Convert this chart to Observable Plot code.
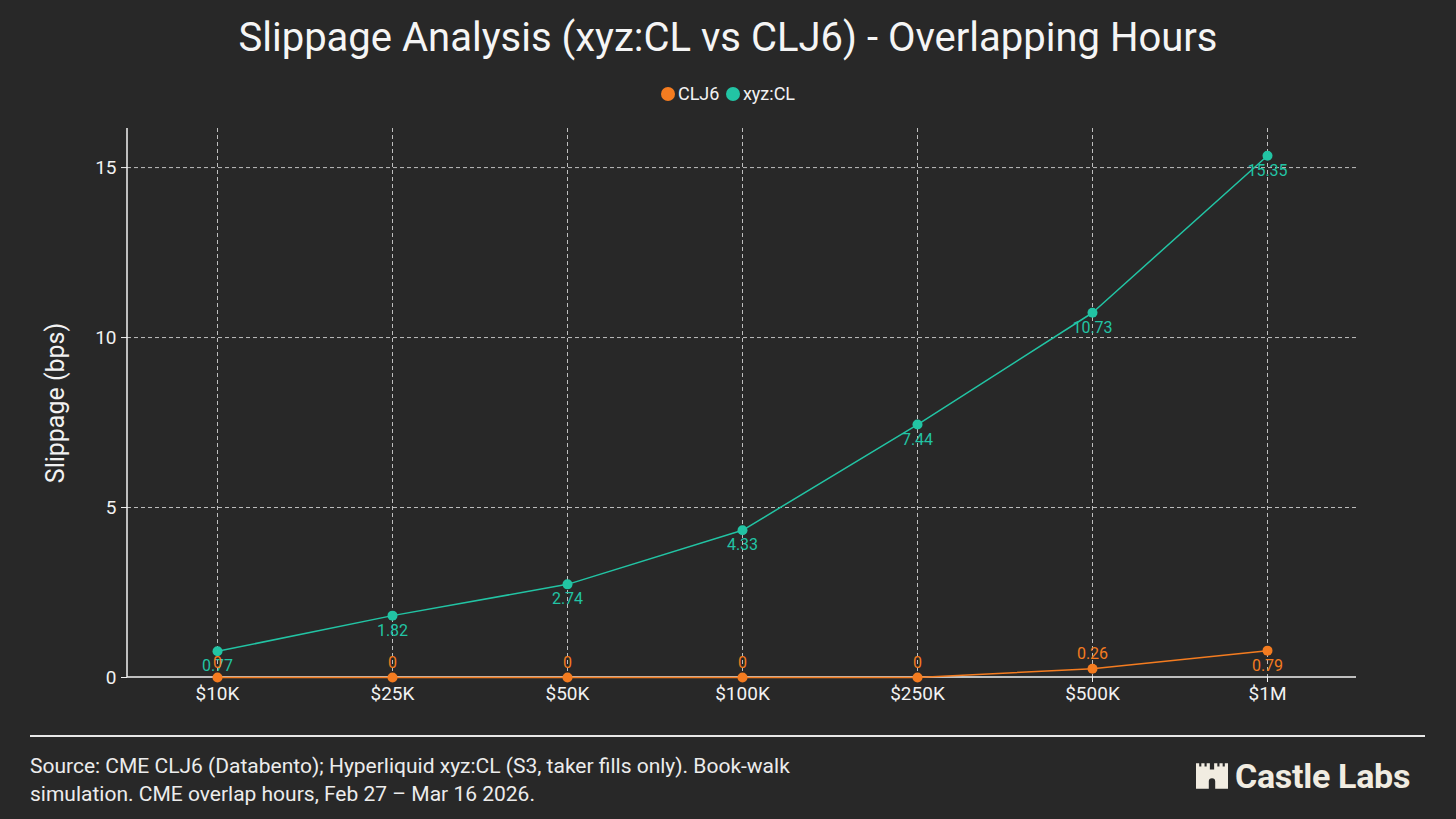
<!DOCTYPE html>
<html>
<head>
<meta charset="utf-8">
<script src="https://cdn.jsdelivr.net/npm/d3@7"></script>
<script src="https://cdn.jsdelivr.net/npm/@observablehq/plot@0.6"></script>
<style>
  html, body { margin: 0; padding: 0; background: #282828; }
  body { width: 1456px; height: 819px; position: relative; overflow: hidden; font-family: Roboto, "Noto Sans", sans-serif; color: #f2f2f2; }
  #title { position: absolute; top: 13px; left: 0; width: 1456px; text-align: center; font-size: 40px; line-height: 50px; font-weight: 400; color: #f5f5f5; }
  #legend { position: absolute; top: 83px; left: 0; width: 1456px; text-align: center; font-size: 18px; line-height: 22px; color: #f2f2f2; }
  #legend .item { display: inline-flex; align-items: center; margin: 0 1px; }
  #legend .dot { width: 14px; height: 14px; border-radius: 50%; display: inline-block; margin-right: 3px; }
  #chart { position: absolute; top: 110px; left: 0; }
  #rule { position: absolute; top: 735px; left: 30px; width: 1395px; height: 1.5px; background: #e8e8e8; }
  #caption { position: absolute; top: 752px; left: 30px; font-size: 21px; line-height: 28px; color: #ececec; }
  #logo { position: absolute; top: 756px; left: 1196px; display: flex; align-items: center; color: #f1ece1; font-weight: 700; font-size: 34px; letter-spacing: -0.3px; }
  #logo svg { margin-right: 7px; }
</style>
</head>
<body>
<div id="title"></div>
<div id="legend"></div>
<div id="chart"></div>
<div id="rule"></div>
<div id="caption"></div>
<div id="logo"></div>
<script>
const sizes = ["$10K", "$25K", "$50K", "$100K", "$250K", "$500K", "$1M"];
const clj6 = [0, 0, 0, 0, 0, 0.26, 0.79];
const xyzcl = [0.77, 1.82, 2.74, 4.33, 7.44, 10.73, 15.35];
const seriesNames = ["CLJ6", "xyz:CL"];
const yTicks = [0, 5, 10, 15];

const titleText = "Slippage Analysis (xyz:CL vs CLJ6) - Overlapping Hours";
const yLabel = "Slippage (bps)";
const captionLines = [
  "Source: CME CLJ6 (Databento); Hyperliquid xyz:CL (S3, taker fills only). Book-walk",
  "simulation. CME overlap hours, Feb 27 \u2013 Mar 16 2026."
];
const brand = "Castle Labs";

const ORANGE = "#f47c20";
const TEAL = "#22c4a4";
const AXIS = "#f2f2f2";
const colors = {"CLJ6": ORANGE, "xyz:CL": TEAL};

document.getElementById("title").textContent = titleText;
document.getElementById("legend").innerHTML = seriesNames.map(n =>
  `<span class="item"><span class="dot" style="background:${colors[n]}"></span>${n}</span>`).join(" ");
document.getElementById("caption").innerHTML = captionLines.join("<br>");
document.getElementById("logo").innerHTML =
  `<svg width="32" height="26" viewBox="0 0 30 24"><path fill="#f1ece1" fill-rule="evenodd" d="M0 0h3v3h2V0h3v3h2V0h3v6h4V0h3v3h2V0h3v3h2V0h3v24H0z M12 24v-7a3 3 0 0 1 6 0v7z"/></svg>${brand}`;

const cl = sizes.map((s, i) => ({size: s, value: clj6[i], series: "CLJ6", i}));
const xy = sizes.map((s, i) => ({size: s, value: xyzcl[i], series: "xyz:CL", i}));
const fmt = v => v === 0 ? "0" : v.toFixed(2);
const last = sizes.length - 1;

// axis lines along left and bottom frame edges
function axisLines(index, scales, values, dimensions) {
  const {width, height, marginLeft, marginRight, marginTop, marginBottom} = dimensions;
  const g = d3.create("svg:g").attr("stroke", AXIS).attr("stroke-width", 1.5);
  g.append("line").attr("x1", marginLeft).attr("x2", marginLeft)
    .attr("y1", marginTop).attr("y2", height - marginBottom);
  g.append("line").attr("x1", marginLeft).attr("x2", width - marginRight)
    .attr("y1", height - marginBottom).attr("y2", height - marginBottom);
  return g.node();
}

const chart = Plot.plot({
  width: 1456,
  height: 610,
  marginTop: 18,
  marginBottom: 43,
  marginLeft: 127,
  marginRight: 100,
  style: {background: "transparent", color: AXIS, fontFamily: "Roboto, 'Noto Sans', sans-serif"},
  x: {type: "point", domain: sizes, padding: 0.5},
  y: {domain: [0, 16.15]},
  marks: [
    Plot.gridY(yTicks.filter(t => t > 0), {stroke: "#d8d8d8", strokeOpacity: 0.85, strokeDasharray: "4,3", strokeWidth: 1}),
    Plot.gridX(sizes, {stroke: "#d8d8d8", strokeOpacity: 0.85, strokeDasharray: "4,3", strokeWidth: 1}),
    Plot.axisX({tickSize: 5, tickPadding: 4, fontSize: 19, stroke: AXIS, label: null}),
    Plot.axisY(yTicks, {tickSize: 6, tickPadding: 5, fontSize: 19, stroke: AXIS, label: null}),
    axisLines,
    Plot.text([yLabel], {frameAnchor: "left", dx: -72, rotate: -90, textAnchor: "middle", fontSize: 25, fill: AXIS}),
    Plot.line(xy, {x: "size", y: "value", stroke: TEAL, strokeWidth: 1.5}),
    Plot.dot(xy, {x: "size", y: "value", r: 5, fill: TEAL}),
    Plot.text(xy, {x: "size", y: "value", text: d => fmt(d.value), dy: 15, fill: TEAL, fontSize: 16}),
    Plot.line(cl, {x: "size", y: "value", stroke: ORANGE, strokeWidth: 1.5}),
    Plot.dot(cl, {x: "size", y: "value", r: 5, fill: ORANGE}),
    Plot.text(cl, {x: "size", y: "value", text: d => fmt(d.value), fill: ORANGE, fontSize: 16,
      filter: d => d.i !== last, dy: -15}),
    Plot.text(cl, {x: "size", y: "value", text: d => fmt(d.value), fill: ORANGE, fontSize: 16,
      filter: d => d.i === last, dy: 15})
  ]
});
document.getElementById("chart").appendChild(chart);
</script>
</body>
</html>
